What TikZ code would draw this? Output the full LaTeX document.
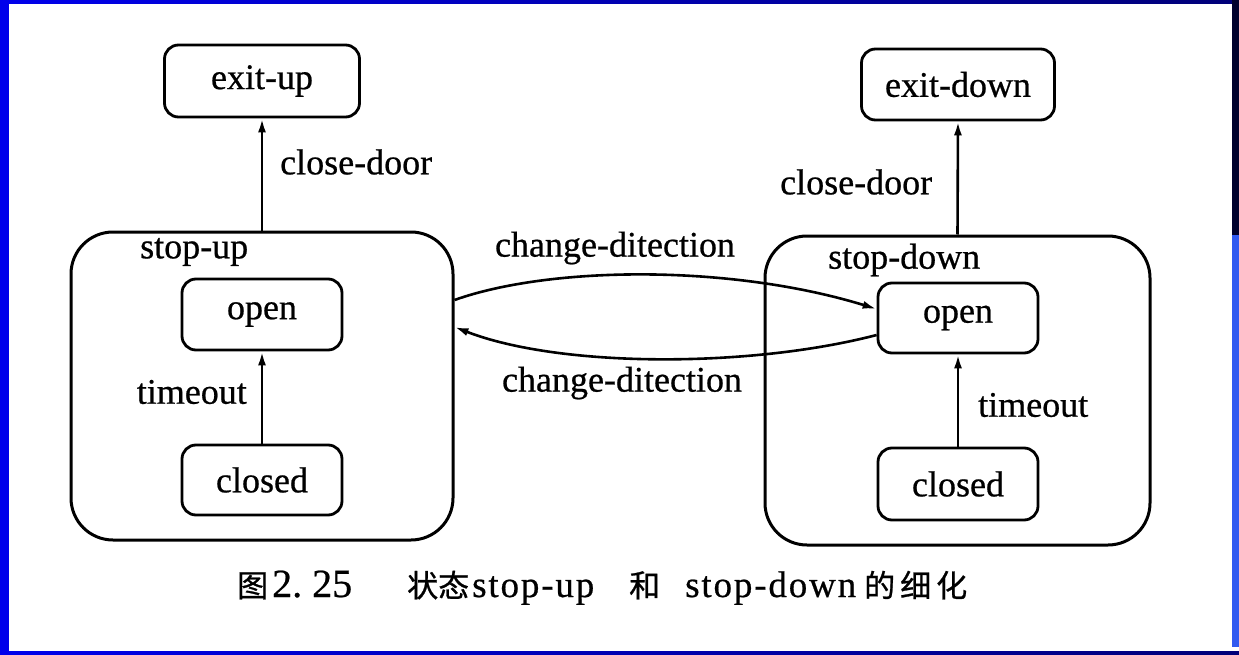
\documentclass[tikz,border=0pt]{standalone}
\usepackage{fontspec}
\setmainfont{Liberation Serif}[FakeBold=0.6]
\newfontfamily\cjk{Noto Sans CJK SC}[FakeBold=0.8]
\newfontfamily\capfont{Liberation Serif}[LetterSpace=5,FakeBold=0.6]
\usetikzlibrary{arrows.meta}
\definecolor{frameblue}{RGB}{0,0,235}
\definecolor{framenavy}{RGB}{0,0,120}
\definecolor{framedark}{RGB}{0,0,45}
\definecolor{framelight}{RGB}{50,90,240}
\tikzset{
  box/.style={draw=black, line width=2.8pt, rounded corners=14pt, inner sep=0pt, fill=white,
    font=\fontsize{36}{40}\selectfont},
  big/.style={draw=black, line width=3pt, rounded corners=42pt, inner sep=0pt},
  lbl/.style={font=\fontsize{36}{40}\selectfont, inner sep=0pt},
  captxt/.style={inner sep=0pt, anchor=base west},
  tr/.style={line width=2.6pt, -{Latex[length=14pt,width=8pt]}},
}
\begin{document}
\begin{tikzpicture}[x=1pt,y=-1pt]
  \useasboundingbox (0,0) rectangle (1239,655);
  % frame
  \fill[white] (0,0) rectangle (1239,655);
  \fill[frameblue] (0,0) rectangle (9,655);
  \shade[left color=frameblue, right color=framenavy] (0,0) rectangle (1239,4);
  \shade[left color=frameblue, right color=framenavy] (0,651) rectangle (1239,655);
  \fill[framedark] (1232,0) rectangle (1239,235);
  \fill[framelight] (1232,235) rectangle (1239,647);

  % outer states
  \node[big, minimum width=382pt, minimum height=308pt] (stopup) at (262,386) {};
  \node[big, minimum width=385pt, minimum height=309pt] (stopdown) at (957.5,390.5) {};

  % exit states
  \node[box, minimum width=195pt, minimum height=72pt] (exitup) at (262,81) {exit-up};
  \node[box, minimum width=193pt, minimum height=71pt] (exitdown) at (958,84.5) {exit-down};

  % inner states
  \node[box, minimum width=160pt, minimum height=71pt] (openL) at (262,314.5) {open};
  \node[box, minimum width=160pt, minimum height=70pt] (closedL) at (262,480) {closed};
  \node[box, minimum width=160pt, minimum height=70pt] (openR) at (958,318) {open};
  \node[box, minimum width=160pt, minimum height=72pt] (closedR) at (958,484) {closed};

  % state names
  \node[lbl, anchor=west] (nup) at (140,252) {stop-up};
  \node[lbl, anchor=west] (ndown) at (828,260) {stop-down};

  % transitions
  \draw[tr] (stopup.north) -- (exitup.south);
  \draw[tr] (stopdown.north) -- (exitdown.south);
  \draw[tr] (closedL.north) -- (openL.south);
  \draw[tr] (closedR.north) -- (openR.south);
  \draw[tr] ([yshift=86pt]stopup.east) .. controls (550,266) and (730,264) .. ([yshift=9pt]openR.west);
  \draw[tr] ([yshift=-17pt]openR.west) .. controls (750,368) and (560,368) .. ([yshift=59pt]stopup.east);

  % transition labels
  \node[lbl, anchor=west] (cdL) at (280,162) {close-door};
  \node[lbl, anchor=west] (cdR) at (780,182) {close-door};
  \node[lbl, anchor=east] (toL) at (247,392) {timeout};
  \node[lbl, anchor=west] (toR) at (978,405) {timeout};
  \node[lbl] (chT) at (615,248) {change-ditection};
  \node[lbl] (chB) at (622,383) {change-ditection};

  % caption
  \node[captxt, font=\cjk\fontsize{31}{34}\selectfont] (c1) at (237,597) {图};
  \node[captxt, font=\fontsize{40}{44}\selectfont] (c2) at (272,597) {2.\hspace{10pt}25};
  \node[captxt, font=\cjk\fontsize{31}{34}\selectfont] (c3) at (407,597) {状态};
  \node[captxt, font=\capfont\fontsize{37}{40}\selectfont] (c4) at (472,597) {stop-up};
  \node[captxt, font=\cjk\fontsize{31}{34}\selectfont] (c5) at (629,597) {和};
  \node[captxt, font=\capfont\fontsize{37}{40}\selectfont] (c6) at (685,597) {stop-down};
  \node[captxt, font=\cjk\fontsize{31}{34}\selectfont] (c7) at (864,597) {的\hspace{5pt}细\hspace{5pt}化};
\end{tikzpicture}
\end{document}
